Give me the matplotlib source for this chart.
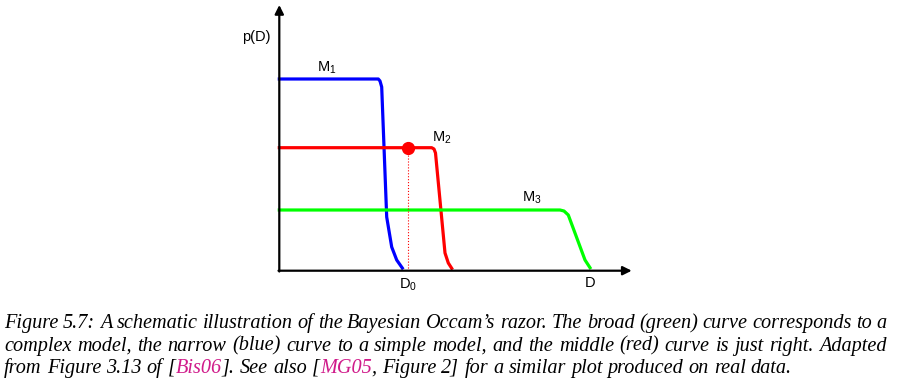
import re
import matplotlib
matplotlib.use("Agg")
import matplotlib.pyplot as plt

plt.rcParams['font.family'] = 'Liberation Sans'
plt.rcParams['mathtext.fontset'] = 'custom'
plt.rcParams['mathtext.rm'] = 'Liberation Sans'
plt.rcParams['mathtext.it'] = 'Liberation Sans:italic'

# Schematic evidence curves p(D) for three models (D in arbitrary units)
d_m1 = [0, 99, 100.7, 102.4, 107.4, 112.4, 117.4, 123]
p_m1 = [191.7, 191.7, 189.7, 183.7, 53.7, 23.7, 10.7, 2.7]

d_m2 = [0, 152.4, 154.7, 156.2, 165.7, 169, 172.4]
p_m2 = [123, 123, 121.7, 117.7, 17.7, 7.7, 2.4]

d_m3 = [0, 280.7, 284.7, 289, 305.7, 310.7]
p_m3 = [60.7, 60.7, 59.7, 55.7, 10.7, 3]

d0 = 129          # observed data set D0
p_d0 = 123

# labels: text, D, p
curve_labels = [("M$_1$", 47.4, 202.4), ("M$_2$", 162.4, 132.4), ("M$_3$", 252.4, 72.4)]

caption = [
    "Figure 5.7: A schematic illustration of the Bayesian Occam’s razor. The broad (green) curve corresponds to a",
    "complex model, the narrow (blue) curve to a simple model, and the middle (red) curve is just right. Adapted",
    "from Figure 3.13 of [{Bis06}]. See also [{MG05}, Figure 2] for a similar plot produced on real data.",
]
link_color = '#d01c8b'

W, H = 902, 388
fig = plt.figure(figsize=(W / 100, H / 100), dpi=100)
ax = fig.add_axes([279.3 / W, (H - 270.7) / H, (640 - 279.3) / W, 270.7 / H])
ax.set_xlim(0, 360.7)
ax.set_ylim(0, 270.7)
ax.axis('off')

# axes with arrow heads
arrow = dict(arrowstyle='-|>', lw=1.6, color='black', mutation_scale=13,
             shrinkA=0, shrinkB=0)
ax.annotate('', xy=(352.4, 0), xytext=(-0.8, 0), arrowprops=arrow)
ax.annotate('', xy=(0, 265.7), xytext=(0, -0.8), arrowprops=arrow)

ax.plot(d_m1, p_m1, color='#0000ff', lw=2.3, solid_joinstyle='round', clip_on=False)
ax.plot(d_m2, p_m2, color='#ff0000', lw=2.3, solid_joinstyle='round', clip_on=False)
ax.plot(d_m3, p_m3, color='#00ff00', lw=2.3, solid_joinstyle='round', clip_on=False)

ax.plot([d0, d0], [0, p_d0], color='#ff0000', lw=0.8, ls=':')
ax.plot([d0], [p_d0], 'o', color='#ff0000', ms=8.5)

for txt, x, y in curve_labels:
    ax.text(x, y, txt, fontsize=10.5, ha='center', va='center')
ax.text(-22.6, 234, "p(D)", fontsize=10.5, ha='center', va='center')
ax.text(d0, -14.3, "D$_0$", fontsize=10.5, ha='center', va='center')
ax.text(310.7, -12.6, "D", fontsize=10.5, ha='center', va='center')

# caption, justified like the LaTeX original
renderer = fig.canvas.get_renderer()
cap_font = dict(family='Liberation Serif', style='italic')


def text_width(s, fs):
    t = fig.text(0, 0, s, fontsize=fs, **cap_font)
    w = t.get_window_extent(renderer).width
    t.remove()
    return w


def split_pieces(word):
    pieces = []
    for part in re.split(r'(\{[^}]*\})', word):
        if not part:
            continue
        if part.startswith('{'):
            pieces.append((part[1:-1], link_color))
        else:
            pieces.append((part, 'black'))
    return pieces


x_left, x_right = 4.0, 887.0
baselines = [328, 350.7, 373]
plain_last = caption[-1].replace('{', '').replace('}', '')
fs = 13.0 * (787 - x_left) / text_width(plain_last, 13.0)

for i, line in enumerate(caption):
    words = [split_pieces(w) for w in line.split(' ')]
    widths = [[text_width(s, fs) for s, _ in w] for w in words]
    total = sum(sum(w) for w in widths)
    if i < len(caption) - 1:
        gap = (x_right - x_left - total) / (len(words) - 1)
    else:
        gap = text_width('x x', fs) - text_width('xx', fs)
    x = x_left
    for w, ws in zip(words, widths):
        for (s, c), sw in zip(w, ws):
            fig.text(x / W, 1 - baselines[i] / H, s, fontsize=fs, color=c,
                     va='baseline', ha='left', **cap_font)
            x += sw
        x += gap

fig.savefig('out.png', dpi=100)
